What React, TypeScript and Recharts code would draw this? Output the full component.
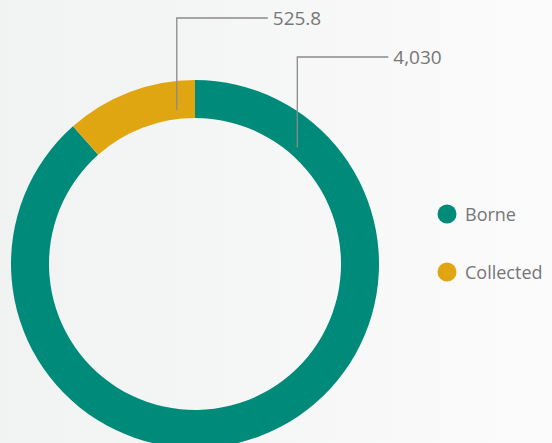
import React from "react";
import { PieChart, Pie, Cell, Legend } from "recharts";

const categories = ["Borne", "Collected"];
const values = [4030, 525.8];
const valueLabels = ["4,030", "525.8"];
const colors = ["#008A7A", "#E0A612"];

const data = categories.map((name, i) => ({ name, value: values[i], label: valueLabels[i] }));

const RAD = Math.PI / 180;
// angle offsets (degrees from the slice start, clockwise) where leader lines begin
const labelOffsets = [41.3, 34.8];
const labelTops = [57, 18];

const renderLabel = (props: any) => {
  const { cx, cy, innerRadius, index, startAngle } = props;
  const ang = startAngle - labelOffsets[index];
  const r = innerRadius + 9;
  const x = cx + r * Math.cos(-ang * RAD);
  const y = cy + r * Math.sin(-ang * RAD);
  const top = labelTops[index];
  const x2 = x + 91;
  return (
    <g>
      <polyline
        points={`${x},${y} ${x},${top} ${x2},${top}`}
        fill="none"
        stroke="#8a8a8a"
        strokeWidth={1.3}
      />
      <text
        x={x2 + 5}
        y={top + 7}
        fill="#767676"
        fontSize={19}
        fontFamily="'Open Sans', sans-serif"
      >
        {data[index].label}
      </text>
    </g>
  );
};

const LegendContent = () => (
  <div style={{ fontFamily: "'Open Sans', sans-serif" }}>
    {data.map((d, i) => (
      <div
        key={d.name}
        style={{ display: "flex", alignItems: "center", height: 58 }}
      >
        <svg width={20} height={20} style={{ marginRight: 8 }}>
          <circle cx={10} cy={10} r={9.5} fill={colors[i]} />
        </svg>
        <span style={{ color: "#767676", fontSize: 18 }}>{d.name}</span>
      </div>
    ))}
  </div>
);

export default function App() {
  return (
    <div
      style={{
        position: "absolute",
        left: 0,
        top: 0,
        width: 552,
        height: 443,
        overflow: "hidden",
        background: "linear-gradient(to right, #f1f2f2, #fbfbfb)",
      }}
    >
      <PieChart width={552} height={443} margin={{ top: 0, right: 0, bottom: 0, left: 0 }}>
        <Pie
          data={data}
          dataKey="value"
          nameKey="name"
          cx={195}
          cy={264}
          innerRadius={146}
          outerRadius={184}
          startAngle={90}
          endAngle={-270}
          stroke="none"
          label={renderLabel}
          labelLine={false}
          isAnimationActive={false}
        >
          {data.map((d, i) => (
            <Cell key={d.name} fill={colors[i]} />
          ))}
        </Pie>
        <Legend
          content={<LegendContent />}
          wrapperStyle={{ position: "absolute", left: 437, top: 185, width: 120 }}
        />
      </PieChart>
    </div>
  );
}
